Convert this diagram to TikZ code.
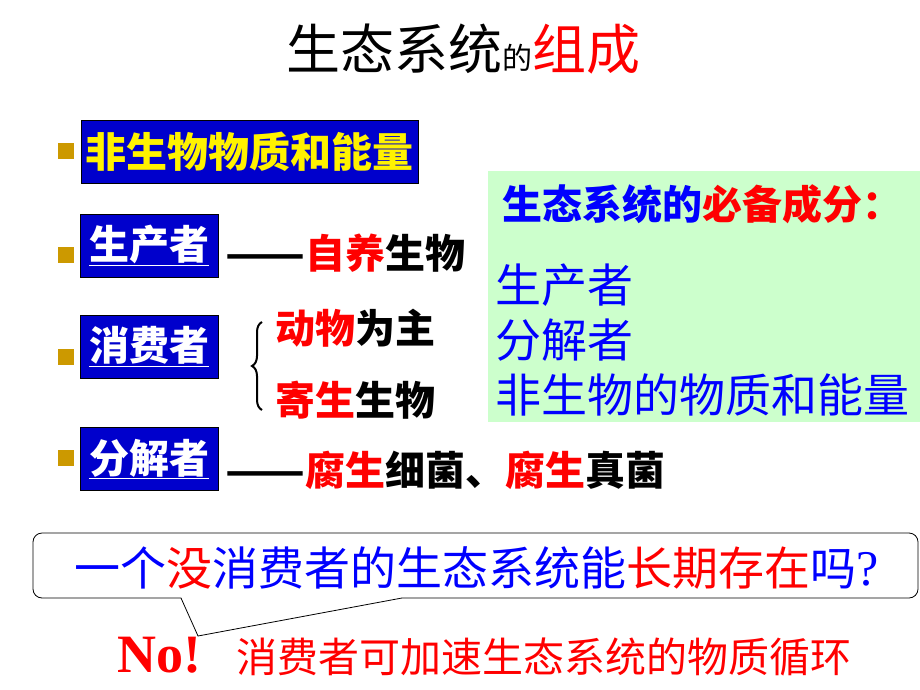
\documentclass[tikz,border=0pt]{standalone}
\usepackage{graphicx}
\usepackage{fontspec}
\newfontfamily\hanzi{Noto Sans CJK SC}
\newfontfamily\latinserif{Liberation Serif}
\usetikzlibrary{positioning}
\usetikzlibrary{decorations.pathreplacing}
\definecolor{boxblue}{HTML}{0000CC}
\definecolor{textblue}{HTML}{0000FF}
\definecolor{hotred}{HTML}{FF0000}
\definecolor{bulletgold}{HTML}{CC9900}
\definecolor{panelgreen}{HTML}{CCFFCC}
\newcommand{\fsz}[1]{\fontsize{#1}{#1}\selectfont}
\newcommand{\longdash}{\resizebox{80pt}{\height}{——}}
\tikzset{
	bullet/.style={
		rectangle,
		fill=bulletgold,
		minimum size=16pt,
		inner sep=0pt,
	},
	role/.style={
		rectangle,
		draw=black,
		fill=boxblue,
		text=white,
		minimum width=138pt,
		minimum height=63pt,
		inner sep=0pt,
		font=\hanzi\bfseries\fsz{40},
	},
	plain/.style={
		anchor=west,
		inner sep=0pt,
		font=\hanzi\bfseries\fsz{40},
	},
	panel/.style={
		rectangle,
		fill=panelgreen,
		anchor=north west,
		minimum width=432pt,
		minimum height=251pt,
		inner sep=0pt,
	},
	entry/.style={
		anchor=west,
		inner sep=0pt,
		text=textblue,
		font=\hanzi\fsz{46},
	},
	callout/.style={
		draw=black,
		fill=white,
		line width=0.8pt,
	},
}
\begin{document}
\begin{tikzpicture}[x=1pt,y=-1pt]
		\useasboundingbox (0,0) rectangle (920,690);

		% title
		\node[anchor=base west, inner sep=0pt, font=\hanzi] (title) at (286,70)
			{\fsz{54}生态系统\fsz{30}的\fsz{54}\color{hotred}组成} ;

		% bullets
		\node[bullet] (b1) at (66,151) {} ;
		\node[bullet] (b2) at (66,255) {} ;
		\node[bullet] (b3) at (66,357) {} ;
		\node[bullet] (b4) at (66,458) {} ;

		% component boxes
		\node[role, minimum width=337pt, text=yellow, font=\hanzi\bfseries\fsz{41}] (abiotic) at (249.5,151.5) {非生物物质和能量} ;
		\node[role] (prod) at (149,245.5) {\underline{生产者}} ;
		\node[role] (cons) at (149,346.5) {\underline{消费者}} ;
		\node[role] (decomp) at (149,459) {\underline{分解者}} ;

		% descriptions
		\node[plain] (prodtxt) at (225,253) {\longdash{\color{hotred}自养}生物} ;
		\node[plain] (animal) at (275,328) {{\color{hotred}动物}为主} ;
		\node[plain] (parasite) at (275,400) {{\color{hotred}寄生}生物} ;
		\node[plain] (decomptxt) at (225,470) {\longdash{\color{hotred}腐生}细菌、{\color{hotred}腐生}真菌} ;

		\coordinate (brtop) at (262,322) ;
		\coordinate (brbot) at (262,410) ;
		\draw[line width=2pt, decorate, decoration={brace, amplitude=10pt}] (brbot) -- (brtop) ;

		% essential components
		\node[panel] (ess) at (488,171) {} ;
		\node[anchor=west, inner sep=0pt, font=\hanzi\bfseries\fsz{40}] (esshead) at (502,204)
			{{\color{textblue}生态系统的}{\color{hotred}必备成分：}} ;
		\node[entry] (e1) at (495,285) {生产者} ;
		\node[entry] (e2) at (495,340) {分解者} ;
		\node[entry] (e3) at (495,395) {非生物的物质和能量} ;

		% question bubble
		\coordinate (tailL) at (181,598) ;
		\coordinate (tip) at (198,636) ;
		\coordinate (tailR) at (402,598) ;
		\draw[callout] (tailL) -- (tip) -- (tailR)
			{[rounded corners=9pt] -- (918,598) -- (918,533) -- (33,533) -- (33,598)} -- cycle ;
		\node[anchor=west, inner sep=0pt, font=\hanzi\fsz{46}, text=textblue] (question) at (74,568)
			{一个{\color{hotred}没}消费者的生态系统能{\color{hotred}长期存在}吗{\latinserif\fsz{50}?}} ;

		% answer
		\node[anchor=west, inner sep=0pt, font=\latinserif\bfseries\fsz{54}, text=hotred] (no) at (117,655) {No!} ;
		\node[anchor=west, inner sep=0pt, font=\hanzi\fsz{41}, text=hotred] (answer) at (236,657)
			{消费者可加速生态系统的物质循环} ;

	\end{tikzpicture}
\end{document}
